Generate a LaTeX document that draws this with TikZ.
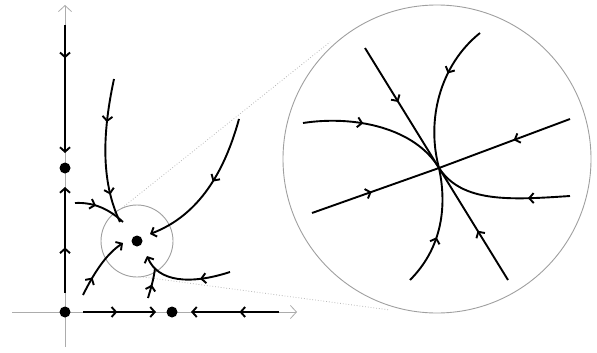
\documentclass[tikz,border=0pt]{standalone}
\usetikzlibrary{arrows.meta,decorations.markings}
\begin{document}
\begin{tikzpicture}[x=1pt,y=-1pt,
  tipa/.tip={Straight Barb[length=4.5pt,width=10pt]},
  traj/.style={line width=1.9pt,black},
  endtip/.style={-tipa},
  midarr/.style={postaction={decorate,decoration={markings,mark=at position #1 with {\arrow{tipa}}}}},
  axis/.style={gray!65,line width=0.8pt,-{Straight Barb[length=6pt,width=13pt]}},
  zoomc/.style={gray!75,line width=0.9pt},
  dotl/.style={gray!55,dotted,line width=0.8pt},
  dot/.style={circle,fill=black,inner sep=0pt,minimum size=11pt}]
\useasboundingbox (0,0) rectangle (597,353);
% axes
\coordinate (ybot) at (65,347); \coordinate (ytop) at (65,5);
\coordinate (xl) at (12,312); \coordinate (xr) at (297,312);
\draw[axis] (ybot) -- (ytop);
\draw[axis] (xl) -- (xr);
% zoom circles and dotted lines
\coordinate (S) at (137,241);
\coordinate (B) at (437,159);
\draw[zoomc] (S) circle[radius=36];
\draw[zoomc] (B) circle[radius=154];
\coordinate (d1a) at (122,208); \coordinate (d1b) at (330,42);
\coordinate (d2a) at (143,277); \coordinate (d2b) at (390,310);
\draw[dotl] (d1a) -- (d1b);
\draw[dotl] (d2a) -- (d2b);
% fixed points
\node[dot] (P0) at (65,312) {};
\node[dot] (P1) at (65,168) {};
\node[dot] (P2) at (172,312) {};
\node[dot] (P3) at (137,241) {};
% axis trajectories
\coordinate (y1s) at (65,25); \coordinate (y1e) at (65,153);
\coordinate (y2s) at (65,293); \coordinate (y2e) at (65,187);
\coordinate (x1s) at (83,312); \coordinate (x1e) at (156,312);
\coordinate (x2s) at (279,312); \coordinate (x2e) at (191,312);
\draw[traj,endtip,midarr=0.26] (y1s) -- (y1e);
\draw[traj,endtip,midarr=0.43] (y2s) -- (y2e);
\draw[traj,endtip,midarr=0.47] (x1s) -- (x1e);
\draw[traj,endtip,midarr=0.45] (x2s) -- (x2e);
% interior trajectories (left panel)
\coordinate (a1) at (114,79); \coordinate (a2) at (120,222);
\draw[traj,midarr=0.3,midarr=0.8] (a1) .. controls (103,130) and (100,180) .. (a2);
\coordinate (b1) at (75,203); \coordinate (b2) at (123,222);
\draw[traj,midarr=0.4] (b1) .. controls (95,202) and (110,210) .. (b2);
\coordinate (c1) at (239,119); \coordinate (c2) at (150,234);
\draw[traj,endtip,midarr=0.45] (c1) .. controls (225,170) and (200,215) .. (c2);
\coordinate (e1) at (83,295); \coordinate (e2) at (123,243);
\draw[traj,endtip,midarr=0.3] (e1) .. controls (93,275) and (105,255) .. (e2);
\coordinate (f1) at (230,272); \coordinate (f2) at (147,256);
\draw[traj,endtip,midarr=0.33] (f1) .. controls (190,285) and (158,282) .. (f2);
\coordinate (g1) at (148,298); \coordinate (g2) at (155,268);
\draw[traj,midarr=0.45] (g1) .. controls (151,288) and (154,278) .. (g2);
% zoomed view
\coordinate (C) at (439,168);
\coordinate (s1) at (365,48); \coordinate (s2) at (508,280);
\coordinate (h1) at (312,213); \coordinate (h2) at (570,119);
\draw[traj,midarr=0.45] (s1) -- (C);
\draw[traj,midarr=0.44] (s2) -- (C);
\draw[traj,midarr=0.47] (h1) -- (C);
\draw[traj,midarr=0.43] (h2) -- (C);
\coordinate (k1) at (303,123);
\draw[traj,midarr=0.4] (k1) .. controls (355,115) and (415,128) .. (C);
\coordinate (k2) at (570,196);
\draw[traj,midarr=0.3] (k2) .. controls (510,200) and (462,203) .. (C);
\coordinate (k3) at (480,33);
\draw[traj,midarr=0.35] (k3) .. controls (440,65) and (426,120) .. (C);
\coordinate (k4) at (410,280);
\draw[traj,midarr=0.42] (k4) .. controls (440,250) and (448,210) .. (C);
\end{tikzpicture}
\end{document}
